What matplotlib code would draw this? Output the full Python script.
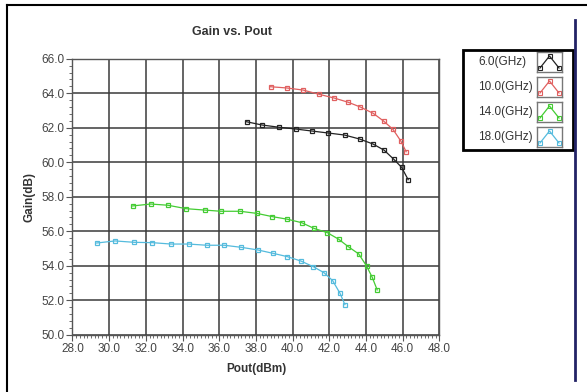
import matplotlib
matplotlib.use("Agg")
import matplotlib.pyplot as plt
from matplotlib.patches import Rectangle
from matplotlib.lines import Line2D
from matplotlib.ticker import MultipleLocator, FormatStrFormatter

plt.rcParams['font.family'] = ['Liberation Sans', 'DejaVu Sans']

# 6 GHz
pout_6 = [37.49, 38.34, 39.27, 40.16, 41.07, 41.92, 42.83, 43.65, 44.38, 44.99, 45.50, 45.94, 46.30]
gain_6 = [62.35, 62.16, 62.03, 61.93, 61.81, 61.70, 61.58, 61.35, 61.06, 60.70, 60.19, 59.71, 58.99]
# 10 GHz
pout_10 = [38.80, 39.67, 40.56, 41.45, 42.25, 43.03, 43.68, 44.39, 44.96, 45.47, 45.90, 46.19]
gain_10 = [64.38, 64.31, 64.19, 63.94, 63.73, 63.48, 63.21, 62.84, 62.39, 61.91, 61.23, 60.61]
# 14 GHz
pout_14 = [31.28, 32.26, 33.20, 34.20, 35.20, 36.09, 37.13, 38.04, 38.89, 39.71, 40.49, 41.16,
           41.89, 42.51, 43.03, 43.60, 44.03, 44.34, 44.61]
gain_14 = [57.47, 57.58, 57.51, 57.31, 57.23, 57.16, 57.16, 57.04, 56.85, 56.70, 56.50, 56.17,
           55.92, 55.54, 55.11, 54.69, 53.99, 53.33, 52.60]
# 18 GHz
pout_18 = [29.32, 30.32, 31.37, 32.35, 33.37, 34.33, 35.31, 36.27, 37.20, 38.09, 38.94, 39.71,
           40.44, 41.12, 41.71, 42.18, 42.58, 42.85]
gain_18 = [55.32, 55.44, 55.36, 55.34, 55.26, 55.26, 55.19, 55.19, 55.07, 54.92, 54.72, 54.53,
           54.28, 53.95, 53.60, 53.14, 52.41, 51.75]

labels = ['6.0(GHz)', '10.0(GHz)', '14.0(GHz)', '18.0(GHz)']
colors = ['#222222', '#e06060', '#44cc33', '#55bbdd']
series = [(pout_6, gain_6), (pout_10, gain_10), (pout_14, gain_14), (pout_18, gain_18)]

fig = plt.figure(figsize=(5.87, 3.92), dpi=100)
ax = fig.add_axes([0.1235, 0.146, 0.625, 0.704])

for (xs, ys), c in zip(series, colors):
    ax.plot(xs, ys, color=c, lw=0.9, marker='s', ms=3.5, mfc='none', mec=c, mew=0.9)

ax.set_xlim(28, 48)
ax.set_ylim(50, 66)
ax.xaxis.set_major_locator(MultipleLocator(2))
ax.xaxis.set_minor_locator(MultipleLocator(0.2))
ax.yaxis.set_major_locator(MultipleLocator(2))
ax.yaxis.set_minor_locator(MultipleLocator(0.4))
ax.xaxis.set_major_formatter(FormatStrFormatter('%.1f'))
ax.yaxis.set_major_formatter(FormatStrFormatter('%.1f'))
ax.grid(True, which='major', color='#3a3a3a', lw=1.1)
ax.tick_params(which='major', direction='out', length=4, color='#555555', labelsize=8.5,
               labelcolor='#444444', pad=2)
ax.tick_params(which='minor', direction='out', length=2.5, color='#555555')
for s in ax.spines.values():
    s.set_color('#555555')
    s.set_linewidth(1.0)

ax.set_xlabel('Pout(dBm)', fontsize=8.5, fontweight='bold', color='#333333', labelpad=6)
ax.set_ylabel('Gain(dB)', fontsize=8.5, fontweight='bold', color='#333333', labelpad=4)
fig.text(0.395, 0.918, 'Gain vs. Pout', ha='center', va='center', fontsize=9,
         fontweight='bold', color='#333333')

# custom legend panel
fig.add_artist(Rectangle((463 / 587, 1 - 150 / 392), 110 / 587, 100 / 392,
                         transform=fig.transFigure, fill=False, ec='black', lw=2))
for i, (lab, c) in enumerate(zip(labels, colors)):
    yc = 1 - (62 + 25 * i) / 392
    fig.text(478 / 587, yc, lab, ha='left', va='center', fontsize=8.5, color='#333333')
    icon = fig.add_axes([537 / 587, yc - 10 / 392, 25 / 587, 20 / 392])
    icon.set_xlim(0, 1)
    icon.set_ylim(0, 1)
    icon.set_xticks([])
    icon.set_yticks([])
    for s in icon.spines.values():
        s.set_color('#777777')
        s.set_linewidth(1.0)
    icon.plot([0.12, 0.5, 0.88], [0.2, 0.8, 0.2], color=c, lw=0.9, marker='s', ms=2.5,
              mfc='none', mec=c, mew=0.8, clip_on=False)

# outer frame lines
fig.add_artist(Line2D([7 / 587, 7 / 587], [0, 1 - 5 / 392], transform=fig.transFigure,
                      color='black', lw=1.5))
fig.add_artist(Line2D([7 / 587, 1], [1 - 5 / 392, 1 - 5 / 392], transform=fig.transFigure,
                      color='black', lw=1.5))
fig.add_artist(Line2D([575 / 587, 575 / 587], [1 - 380 / 392, 1 - 20 / 392],
                      transform=fig.transFigure, color='#222266', lw=2))

fig.savefig('out.png', dpi=100)
